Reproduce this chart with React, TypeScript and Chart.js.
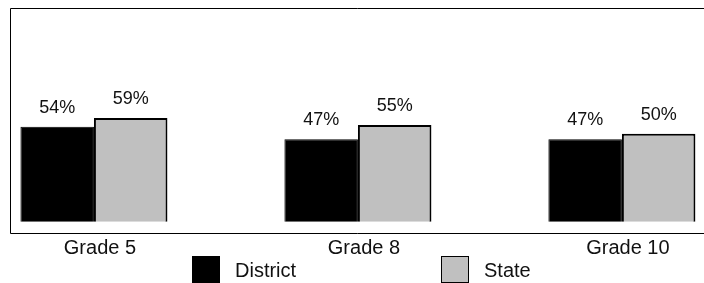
import React, { useEffect, useRef } from "react";
import { Chart, registerables } from "chart.js";

Chart.register(...registerables);

const categories = ["Grade 5", "Grade 8", "Grade 10"];
const seriesNames = ["District", "State"];
const districtValues = [54, 47, 47];
const stateValues = [59, 55, 50];
const seriesColors = ["#000000", "#c0c0c0"];

const FONT = "'Liberation Sans', Arial, Helvetica, sans-serif";

const framePlugin = {
  id: "frame",
  beforeDatasetsDraw(chart: any) {
    const { ctx, chartArea: a } = chart;
    ctx.save();
    ctx.strokeStyle = "#000";
    ctx.lineWidth = 1;
    ctx.beginPath();
    ctx.moveTo(a.right, a.top + 0.5);
    ctx.lineTo(a.left + 0.5, a.top + 0.5);
    ctx.lineTo(a.left + 0.5, a.bottom - 0.5);
    ctx.lineTo(a.right, a.bottom - 0.5);
    ctx.stroke();
    ctx.restore();
  },
};

const valueLabelPlugin = {
  id: "valueLabels",
  afterDatasetsDraw(chart: any) {
    const { ctx } = chart;
    ctx.save();
    ctx.font = `18px ${FONT}`;
    ctx.fillStyle = "#111";
    ctx.textAlign = "center";
    ctx.textBaseline = "alphabetic";
    chart.data.datasets.forEach((ds: any, di: number) => {
      const meta = chart.getDatasetMeta(di);
      meta.data.forEach((el: any, i: number) => {
        const v = ds.data[i].y;
        ctx.fillText(`${v}%`, el.x, el.y - 14);
      });
    });
    ctx.restore();
  },
};

const legendPlugin = {
  id: "bottomLegend",
  afterDraw(chart: any) {
    const { ctx } = chart;
    const itemStarts = [192, 441];
    const boxW = 28;
    const boxH = 27;
    const boxTop = chart.height - 27;
    ctx.save();
    ctx.font = `20px ${FONT}`;
    ctx.textAlign = "left";
    ctx.textBaseline = "alphabetic";
    chart.data.datasets.forEach((ds: any, di: number) => {
      const x = itemStarts[di];
      ctx.fillStyle = ds.backgroundColor;
      ctx.fillRect(x, boxTop, boxW, boxH);
      ctx.strokeStyle = "#000";
      ctx.lineWidth = 1;
      ctx.strokeRect(x + 0.5, boxTop + 0.5, boxW - 1, boxH - 1);
      ctx.fillStyle = "#111";
      ctx.fillText(ds.label, x + boxW + 15, chart.height - 6);
    });
    ctx.restore();
  },
};

export default function App() {
  const canvasRef = useRef<HTMLCanvasElement | null>(null);

  useEffect(() => {
    document.body.style.margin = "0";
    const canvas = canvasRef.current;
    if (!canvas) return;
    const chart = new Chart(canvas, {
      type: "bar",
      data: {
        datasets: [
          {
            label: seriesNames[0],
            data: districtValues.map((v, i) => ({ x: i, y: v })),
            backgroundColor: seriesColors[0],
            borderColor: "#000",
            borderWidth: 1,
          },
          {
            label: seriesNames[1],
            data: stateValues.map((v, i) => ({ x: i, y: v })),
            backgroundColor: seriesColors[1],
            borderColor: "#000",
            borderWidth: 2,
          },
        ],
      },
      options: {
        animation: false,
        responsive: true,
        maintainAspectRatio: false,
        layout: { padding: { left: 10, top: 8, right: 0, bottom: 21 } },
        datasets: {
          bar: { categoryPercentage: 0.557, barPercentage: 1 },
        },
        plugins: {
          legend: { display: false },
          tooltip: { enabled: false },
        },
        scales: {
          x: {
            type: "linear",
            offset: false,
            min: -0.318,
            max: 2.311,
            grid: { display: false, drawTicks: false, offset: false },
            border: { display: false },
            afterBuildTicks: (scale: any) => {
              scale.ticks = categories.map((_, i) => ({ value: i }));
            },
            ticks: {
              autoSkip: false,
              maxRotation: 0,
              padding: 2,
              labelOffset: 6,
              color: "#111",
              font: { family: FONT, size: 20 },
              callback: (v: any) => categories[v as number] ?? "",
            },
          },
          y: {
            display: false,
            min: -6.9,
            max: 121.5,
          },
        },
      },
      plugins: [framePlugin, valueLabelPlugin, legendPlugin],
    } as any);
    return () => chart.destroy();
  }, []);

  return (
    <div style={{ position: "relative", width: 704, height: 283 }}>
      <canvas ref={canvasRef} />
    </div>
  );
}
